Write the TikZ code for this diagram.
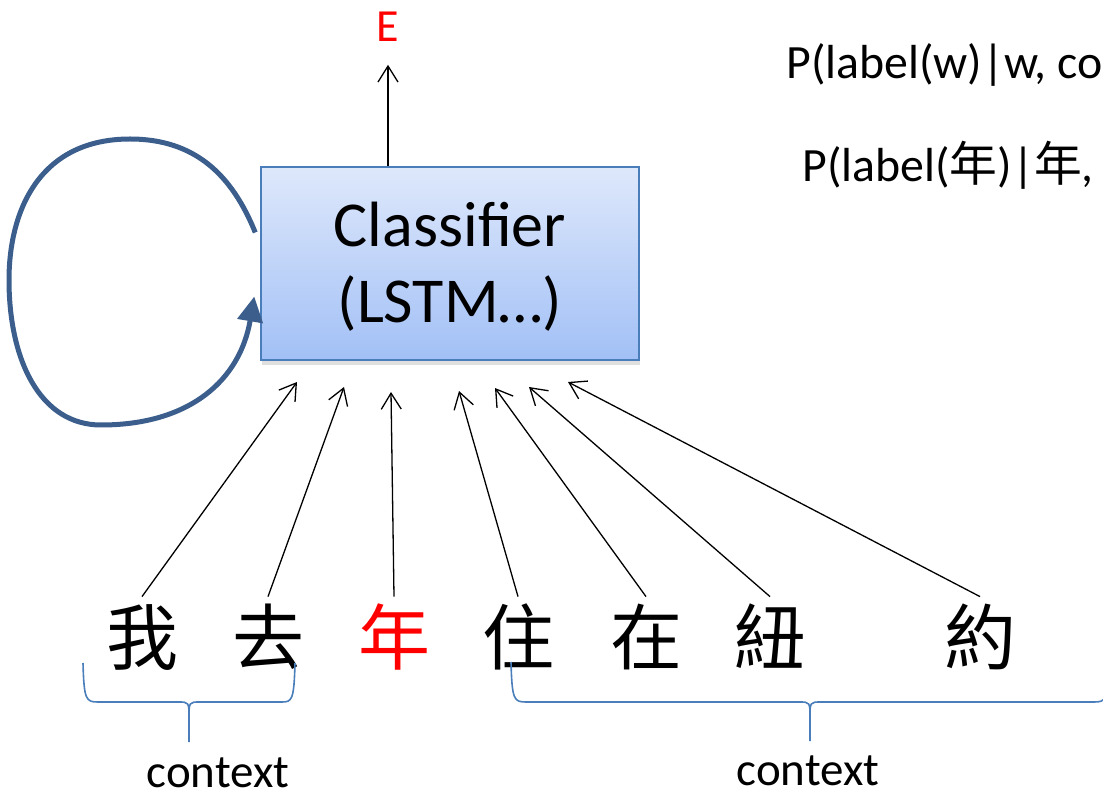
\documentclass[tikz,border=0pt]{standalone}
\usepackage{fontspec}
\setmainfont{Carlito}
\newfontfamily\cjk{Noto Sans CJK TC}
\usetikzlibrary{arrows.meta,shadows}
\definecolor{boxline}{RGB}{74,126,187}
\definecolor{boxtop}{RGB}{222,232,251}
\definecolor{boxbot}{RGB}{162,192,246}
\definecolor{loopblue}{RGB}{59,94,140}
\tikzset{
  inarrow/.style={-{Straight Barb[length=8pt,width=10pt]},line width=0.65pt},
  word/.style={font=\cjk\fontsize{36pt}{36pt}\selectfont,anchor=base,inner sep=0pt,text height=33.5pt},
  clstext/.style={font=\fontsize{32pt}{38pt}\selectfont,anchor=base,inner sep=0pt},
  ctxbrace/.style={draw=boxline,line width=0.8pt},
  ctxlabel/.style={font=\fontsize{23.5pt}{28pt}\selectfont,anchor=base,inner sep=0pt},
  prob/.style={font=\fontsize{23.9pt}{28pt}\selectfont,anchor=base west,inner sep=0pt}
}
\begin{document}
\begin{tikzpicture}[x=0.5pt,y=-0.5pt]
	\clip (0,0) rectangle (1103,796);
	\node[draw=boxline,line width=0.75pt,top color=boxtop,bottom color=boxbot,minimum width=189pt,minimum height=96.5pt,drop shadow={shadow xshift=0.5pt,shadow yshift=-2.5pt,opacity=0.25}] (cls) at (450,263.5) {};
	\node[clstext] (cls1) at (450,247) {Classifier};
	\node[clstext] (cls2) at (450,323) {(LSTM…)};
	\node[text=red,font=\fontsize{23pt}{28pt}\selectfont] (e) at (388,27) {E};
	\draw[inarrow,shorten >=8pt] (cls.north -| e) -- (e.south);
	\node[word] (w1) at (142,664) {我};
	\node[word] (w2) at (268,664) {去};
	\node[word,text=red] (w3) at (394,664) {年};
	\node[word] (w4) at (518,664) {住};
	\node[word] (w5) at (646,664) {在};
	\node[word] (w6) at (770,664) {紐};
	\node[word] (w7) at (980,664) {約};
	\foreach \i/\x/\y in {1/297/382,2/344/387,3/391/392,4/459/391,5/495/388,6/529/387,7/568/382}{
		\coordinate (t\i) at (\x,\y);
		\draw[inarrow] (w\i.north) -- (t\i);
	}
	\draw[draw=loopblue,line width=2.5pt,-{Triangle[length=12.5pt,width=12.5pt]}] ([shift={(-5,-31)}]cls.west) .. controls (232,175) and (195,139) .. (130,139) .. controls (40,139) and (9,210) .. (9,280) .. controls (9,360) and (40,425) .. (101,425) .. controls (190,425) and (240,380) .. ([shift={(-6,33)}]cls.west);
	\draw[ctxbrace] (83,663) .. controls (84,700) and (86,702) .. (98,702) -- (178,702) .. controls (189,702) and (189,702) .. (189,718) -- (189,742);
	\draw[ctxbrace] (189,718) .. controls (189,702) and (189,702) .. (200,702) -- (282,702) .. controls (292,702) and (294,700) .. (295,663);
	\draw[ctxbrace] (511,662) .. controls (512,700) and (514,702) .. (526,702) -- (799,702) .. controls (810,702) and (810,702) .. (810,718) -- (810,741);
	\draw[ctxbrace] (810,718) .. controls (810,702) and (810,702) .. (821,702) -- (1094,702) .. controls (1106,702) and (1108,700) .. (1109,662);
	\node[ctxlabel] (ctx1) at (218,787) {context};
	\node[ctxlabel] (ctx2) at (808,785) {context};
	\node[prob] (p1) at (786,79) {P(label(w)|w, co};
	\node[prob] (p2) at (802,182) {P(label({\cjk 年})|{\cjk 年},};
\end{tikzpicture}
\end{document}
